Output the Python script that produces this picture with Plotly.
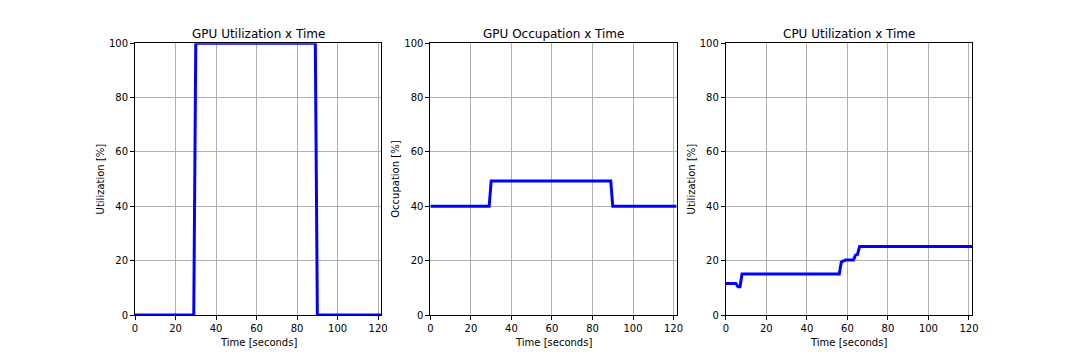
import plotly.graph_objects as go

# ---- data ----
gpu_util_t = [0, 29, 30, 89, 90, 121.5]
gpu_util = [0, 0, 100, 100, 0, 0]

gpu_occ_t = [0, 29, 30, 89, 90, 121.5]
gpu_occ = [40, 40, 49.3, 49.3, 40, 40]

cpu_t = [0, 5, 6, 7, 8, 56, 57, 58, 59, 63, 64, 65, 66, 121.5]
cpu_util = [11.6, 11.6, 10.4, 10.4, 15.1, 15.1, 19.5, 20.0, 20.2, 20.2, 22.0, 22.3, 25.2, 25.2]

titles = ["GPU Utilization x Time", "GPU Occupation x Time", "CPU Utilization x Time"]
ylabels = ["Utilization [%]", "Occupation [%]", "Utilization [%]"]
xlabel = "Time [seconds]"
xticks = [0, 20, 40, 60, 80, 100, 120]
yticks = [0, 20, 40, 60, 80, 100]

series = [(gpu_util_t, gpu_util), (gpu_occ_t, gpu_occ), (cpu_t, cpu_util)]

W, H = 1080, 360
left, right, bottom, top, wspace = 0.125, 0.9, 0.125, 0.88, 0.2
n = 3
w = (right - left) / (n + (n - 1) * wspace)
domains = [[left + i * w * (1 + wspace), left + i * w * (1 + wspace) + w] for i in range(n)]

font = "DejaVu Sans"
fig = go.Figure()
annotations = []
for i, (t, v) in enumerate(series):
    sfx = "" if i == 0 else str(i + 1)
    fig.add_trace(go.Scatter(x=t, y=v, mode="lines",
                             line=dict(color="#0000ff", width=3),
                             xaxis="x" + sfx, yaxis="y" + sfx, showlegend=False))
    axcommon = dict(showline=True, linecolor="black", linewidth=1, mirror=True,
                    ticks="outside", ticklen=4, tickwidth=1, tickcolor="black",
                    showgrid=True, gridcolor="#b0b0b0", gridwidth=1, automargin=False,
                    zeroline=False, tickfont=dict(family=font, size=10, color="black"))
    fig.layout["xaxis" + sfx] = dict(axcommon, domain=domains[i], range=[0, 121.5],
                                     tickvals=xticks, anchor="y" + sfx)
    fig.layout["yaxis" + sfx] = dict(axcommon, domain=[bottom, top], range=[0, 100],
                                     tickvals=yticks, anchor="x" + sfx,
                                     title=dict(text=ylabels[i], font=dict(family=font, size=10, color="black"), standoff=2))
    cx = (domains[i][0] + domains[i][1]) / 2
    annotations.append(dict(text=titles[i], xref="paper", yref="paper",
                            x=cx, y=top,
                            xanchor="center", yanchor="bottom", yshift=0, showarrow=False,
                            font=dict(family=font, size=12, color="black")))
    annotations.append(dict(text=xlabel, xref="paper", yref="paper",
                            x=cx, y=bottom,
                            xanchor="center", yanchor="middle", yshift=-27, showarrow=False,
                            font=dict(family=font, size=10, color="black")))

fig.update_layout(width=W, height=H, margin=dict(l=0, r=0, t=0, b=0),
                  paper_bgcolor="white", plot_bgcolor="white",
                  annotations=annotations)
fig.write_html("out.html", config={"displayModeBar": False},
               post_script="document.body.style.margin='0';document.body.style.padding='0';")
